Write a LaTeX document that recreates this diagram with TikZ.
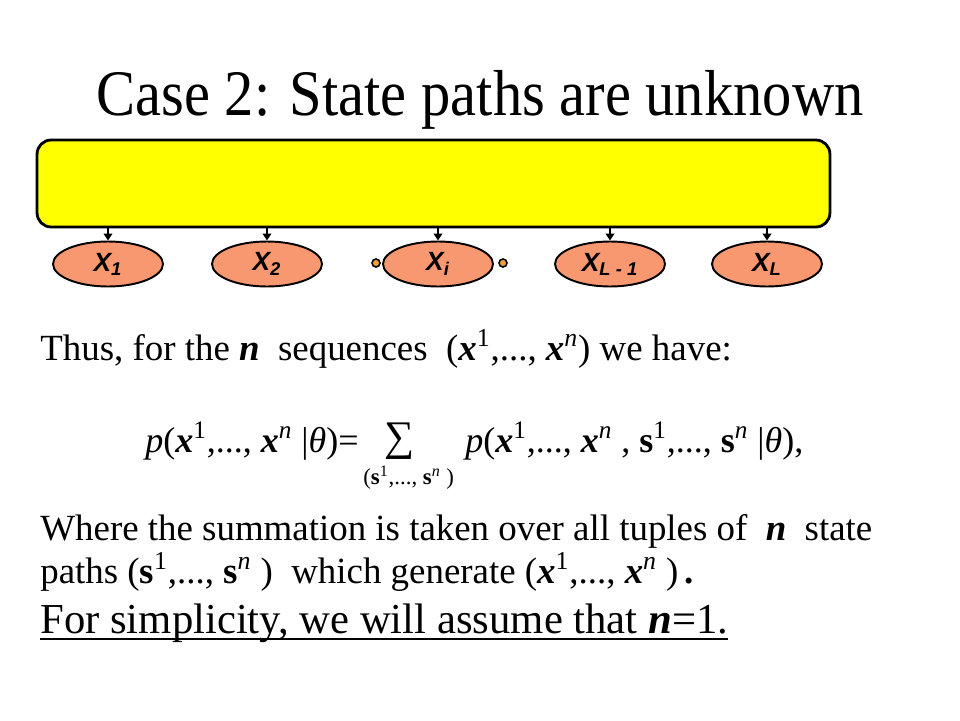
\documentclass[tikz,border=0pt]{standalone}
\usepackage{fontspec}
\setmainfont{Liberation Serif}
\newfontfamily\titlefont[FakeStretch=0.9]{Liberation Serif}
\newfontfamily\nodefont{Liberation Sans}
\usetikzlibrary{positioning,arrows.meta,shapes.geometric}
\definecolor{boxyellow}{RGB}{255,255,0}
\definecolor{nodesalmon}{RGB}{248,152,112}
\definecolor{dotorange}{RGB}{242,162,52}
\newcommand{\bx}[1]{\textbf{\textit{#1}}}

\begin{document}
\begin{tikzpicture}[x=0.02cm, y=-0.02cm,
    obs/.style={ellipse, draw, line width=1.1pt, fill=nodesalmon, minimum width=2.2cm, minimum height=0.9cm, inner sep=0pt, font=\nodefont\fontsize{15}{15}\selectfont\bfseries\itshape},
    dotnode/.style={circle, draw, line width=0.9pt, fill=dotorange, minimum size=0.16cm, inner sep=0pt},
    emit/.style={-{Triangle[length=4pt,width=5pt]}, line width=1pt},
    txt/.style={anchor=base west, inner sep=0pt, font=\fontsize{21}{24}\selectfont}]
\useasboundingbox (0,0) rectangle (960,720);
\node[anchor=base, inner sep=0pt, font=\titlefont\fontsize{37}{40}\selectfont] (title) at (480,115) {Case 2: State paths are unknown};
% hidden state box
\node[draw, line width=1.6pt, fill=boxyellow, rounded corners=8pt, minimum width=15.86cm, minimum height=1.74cm] (hidden) at (433.5,183.5) {};
\foreach \x/\nm/\sub in {108/x1/1, 267/x2/2, 438/xi/i, 610/xl1/{L - 1}, 767/xl/L}{
    \node[obs] (\nm) at (\x,264) {X\textsubscript{\sub}};
    \draw[emit] (hidden.south -| \nm.north) -- (\nm.north);
}
\node[dotnode] (dotl) at (376,263) {};
\node[dotnode] (dotr) at (503,263) {};
% text
\node[txt] (thus) at (40,360) {Thus, for the \bx{n}\ \ sequences\ \ (\bx{x}\textsuperscript{1},..., \bx{x}\textsuperscript{\textit{n}}) we have:};
\node[txt, font=\fontsize{20.5}{24}\selectfont] (lhs) at (145,452) {\textit{p}(\bx{x}\textsuperscript{1},..., \bx{x}\textsuperscript{\textit{n}} |\textit{θ})=};
\node[txt, font=\fontsize{24}{24}\selectfont] (sum) at (384,450) {∑};
\node[txt, font=\fontsize{20.5}{24}\selectfont] (rhs) at (465,452) {\textit{p}(\bx{x}\textsuperscript{1},..., \bx{x}\textsuperscript{\textit{n}} , \textbf{s}\textsuperscript{1},..., \textbf{s}\textsuperscript{\textit{n}} |\textit{θ}),};
\node[txt, font=\fontsize{13}{13}\selectfont] (lim) at (363,484) {(\textbf{s}\textsuperscript{1},..., \textbf{s}\textsuperscript{\textit{n}} )};
\node[txt] (where) at (40,540) {Where the summation is taken over all tuples of\ \ \bx{n}\ \ state};
\node[txt] (paths) at (40,583) {paths (\textbf{s}\textsuperscript{1},..., \textbf{s}\textsuperscript{\textit{n}} )\ \ which generate (\bx{x}\textsuperscript{1},..., \bx{x}\textsuperscript{\textit{n}} )\,\textbf{.}};
\node[txt, font=\fontsize{24.3}{28}\selectfont] (simple) at (40,633) {For simplicity, we will assume that \bx{n}=1.};
\draw[line width=1.1pt] ([yshift=-0.12cm]simple.base west) -- ([yshift=-0.12cm]simple.base east);
\end{tikzpicture}
\end{document}
